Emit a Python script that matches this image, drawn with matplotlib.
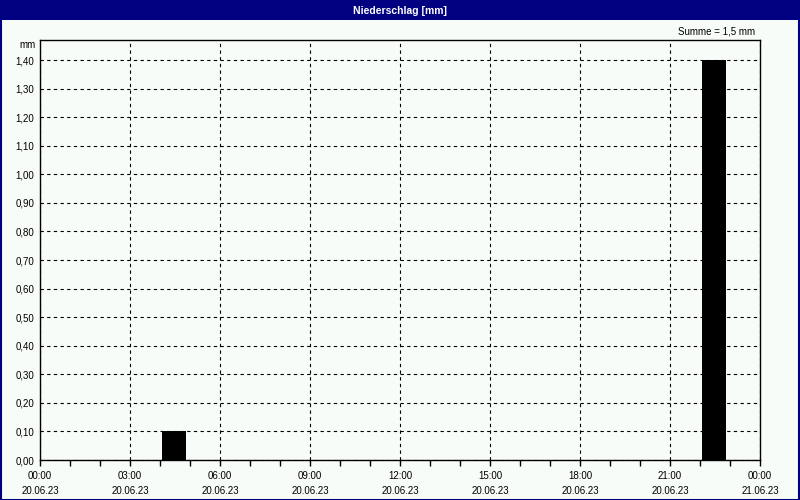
import numpy as np
import matplotlib.pyplot as plt
from matplotlib.patches import Rectangle

# Data
hours = [4, 22]              # hour of day with rain
rain_mm = [0.10, 1.40]       # precipitation in mm
time_labels = ["00:00", "03:00", "06:00", "09:00", "12:00", "15:00", "18:00", "21:00", "00:00"]
date_labels = ["20.06.23"] * 8 + ["21.06.23"]
y_ticks = [0.0, 0.1, 0.2, 0.3, 0.4, 0.5, 0.6, 0.7, 0.8, 0.9, 1.0, 1.1, 1.2, 1.3, 1.4]
title = "Niederschlag [mm]"
summe = "Summe = 1,5 mm"

W, H = 800, 500
bg = "#F8FCF8"
navy = "#000080"

plt.rcParams['font.family'] = ['Liberation Sans', 'DejaVu Sans']

fig = plt.figure(figsize=(W / 100, H / 100), dpi=100, facecolor=bg)

# title bar and border
fig.patches.append(Rectangle((0, 1 - 20 / H), 1, 20 / H, transform=fig.transFigure,
                             facecolor=navy, edgecolor="none", zorder=0))
fig.patches.append(Rectangle((0.5 / W, 0.5 / H), 1 - 1.5 / W, 1 - 1.5 / H, transform=fig.transFigure,
                             facecolor="none", edgecolor=navy, linewidth=1.5, zorder=1))
fig.text(0.5, 1 - 10.5 / H, title, color="white", fontweight="bold", fontsize=7.5,
         ha="center", va="center")

# axes placed in pixel coordinates: x 40..760, y 40..460
ax = fig.add_axes([40 / W, 1 - 460 / H, 720 / W, 420 / H])
ax.set_facecolor(bg)

ax.bar(np.array(hours) + 0.47, rain_mm, width=0.8, color="black", zorder=3)

ax.set_xlim(0, 24)
ax.set_ylim(0, 1.47)

ax.set_xticks(np.arange(0, 25, 3))
ax.set_xticklabels([t + "\n" + d for t, d in zip(time_labels, date_labels)],
                   fontsize=7, linespacing=1.55)
ax.set_xticks(np.arange(0, 25, 1), minor=True)
ax.tick_params(axis="x", which="both", direction="out", length=4, width=1, pad=4)

ax.set_yticks(y_ticks)
ax.set_yticklabels([("%.2f" % v).replace(".", ",") for v in y_ticks], fontsize=7)
ax.tick_params(axis="y", length=0, pad=4)

ax.grid(True, which="major", color="black", linestyle=(0, (3, 3)), linewidth=0.8, zorder=1)
ax.set_axisbelow(True)
for s in ax.spines.values():
    s.set_linewidth(1)
    s.set_color("black")

fig.text(36 / W, 1 - 45 / H, "mm", fontsize=7, ha="right", va="center")
fig.text(755 / W, 1 - 31 / H, summe, fontsize=7, ha="right", va="center")

fig.savefig("out.png", dpi=100, facecolor=bg)
